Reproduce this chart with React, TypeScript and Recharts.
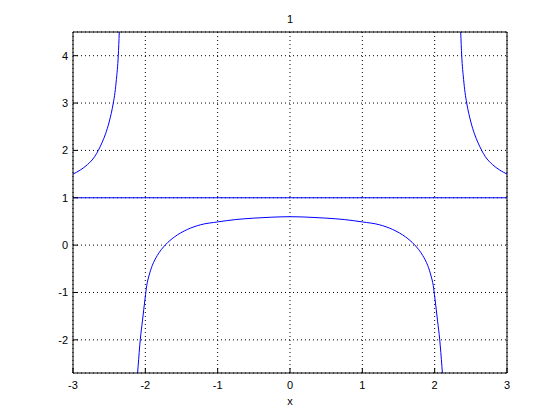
import { CartesianGrid, Line, LineChart, XAxis, YAxis } from 'recharts'

// values
const xTicks = [-3, -2, -1, 0, 1, 2, 3]
const yTicks = [-2, -1, 0, 1, 2, 3, 4]

const upperLeftX = [-3, -2.9, -2.8, -2.7, -2.65, -2.6, -2.55, -2.5, -2.443, -2.42, -2.4, -2.374, -2.36]
const upperLeftY = [1.5, 1.585, 1.7, 1.87, 2.0, 2.16, 2.35, 2.6, 3.0, 3.22, 3.5, 4.0, 4.5]

const lowerX = [
    -2.107, -2.1, -2.07, -2.04, -2.003, -1.98, -1.95, -1.904, -1.835, -1.72, -1.6, -1.42, -1.236, -1.0, -0.75, -0.5, -0.25,
    0, 0.25, 0.5, 0.75, 1.0, 1.236, 1.42, 1.6, 1.72, 1.835, 1.904, 1.95, 1.98, 2.003, 2.04, 2.07, 2.1, 2.107,
]
const lowerY = [
    -2.7, -2.56, -2.0, -1.6, -1.12, -0.85, -0.65, -0.43, -0.22, 0.01, 0.17, 0.33, 0.43, 0.49, 0.54, 0.57, 0.59,
    0.6, 0.59, 0.57, 0.54, 0.49, 0.43, 0.33, 0.17, 0.01, -0.22, -0.43, -0.65, -0.85, -1.12, -1.6, -2.0, -2.56, -2.7,
]

const upperRightX = [2.36, 2.374, 2.4, 2.42, 2.443, 2.5, 2.55, 2.6, 2.65, 2.7, 2.8, 2.9, 3]
const upperRightY = [4.5, 4.0, 3.5, 3.22, 3.0, 2.6, 2.35, 2.16, 2.0, 1.87, 1.7, 1.585, 1.5]

const asymptoteX = [-3, 3]
const asymptoteY = [1, 1]

const toPoints = (xs: number[], ys: number[]) => xs.map((x, i) => ({ x, y: ys[i] }))

const upperLeft = toPoints(upperLeftX, upperLeftY)
const lower = toPoints(lowerX, lowerY)
const upperRight = toPoints(upperRightX, upperRightY)
const asymptote = toPoints(asymptoteX, asymptoteY)

const font = { fontFamily: 'Liberation Sans, Arial, sans-serif', fontSize: 11, fill: '#000' }
const axisStroke = { stroke: '#000' }

export default function App() {
    return (
        <div style={{ position: 'absolute', left: 0, top: 0, background: '#fff' }}>
            <LineChart width={560} height={420} margin={{ top: 0, right: 0, bottom: 0, left: 0 }}>
                <CartesianGrid stroke="#000" strokeDasharray="1 3" />
                <XAxis
                    dataKey="x"
                    type="number"
                    domain={[-3, 3]}
                    ticks={xTicks}
                    allowDataOverflow
                    height={47}
                    tickSize={-5}
                    tickMargin={13}
                    tick={font}
                    axisLine={axisStroke}
                    tickLine={axisStroke}
                    label={{ value: 'x', position: 'center', dy: 5, ...font }}
                />
                <XAxis
                    xAxisId="top"
                    orientation="top"
                    type="number"
                    domain={[-3, 3]}
                    ticks={xTicks}
                    allowDataOverflow
                    height={32}
                    tickSize={-5}
                    tick={false}
                    axisLine={axisStroke}
                    tickLine={axisStroke}
                    label={{ value: '1', position: 'center', dy: 3, ...font }}
                />
                <YAxis
                    type="number"
                    domain={[-2.7, 4.5]}
                    ticks={yTicks}
                    allowDataOverflow
                    width={73}
                    tickSize={-5}
                    tickMargin={10}
                    tick={font}
                    axisLine={axisStroke}
                    tickLine={axisStroke}
                />
                <YAxis
                    yAxisId="right"
                    orientation="right"
                    type="number"
                    domain={[-2.7, 4.5]}
                    ticks={yTicks}
                    allowDataOverflow
                    width={53}
                    tickSize={-5}
                    tick={false}
                    axisLine={axisStroke}
                    tickLine={axisStroke}
                />
                <Line data={asymptote} dataKey="y" stroke="#0000ff" strokeWidth={1} dot={false} isAnimationActive={false} />
                <Line type="monotone" data={upperLeft} dataKey="y" stroke="#0000ff" strokeWidth={1} dot={false} isAnimationActive={false} />
                <Line type="monotone" data={lower} dataKey="y" stroke="#0000ff" strokeWidth={1} dot={false} isAnimationActive={false} />
                <Line type="monotone" data={upperRight} dataKey="y" stroke="#0000ff" strokeWidth={1} dot={false} isAnimationActive={false} />
            </LineChart>
        </div>
    )
}
